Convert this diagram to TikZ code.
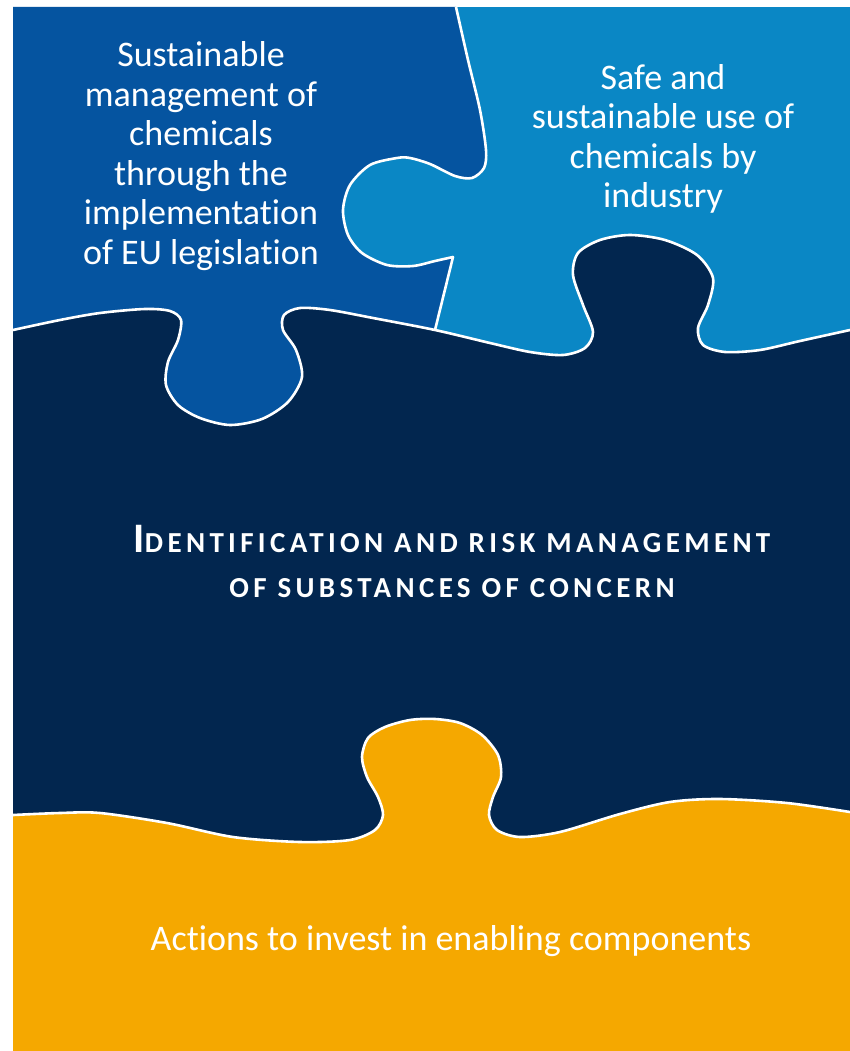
\documentclass[tikz,border=0pt]{standalone}
\usepackage{fontspec}
\setmainfont[Ligatures=NoCommon]{Carlito}
\newfontfamily\capsfont[LetterSpace=15,Ligatures=NoCommon]{Carlito}
\definecolor{dblue}{HTML}{0554A0}
\definecolor{lblue}{HTML}{0A87C5}
\definecolor{navy}{HTML}{02264F}
\definecolor{gold}{HTML}{F5A800}
\begin{document}
\begin{tikzpicture}[x=1pt,y=-1pt,
  edge/.style={draw=white,line width=2.6pt,line join=round},
  lbl/.style={text=white,align=center,inner sep=0pt,font=\fontsize{36}{39.5}\selectfont}]
\useasboundingbox (0,0) rectangle (850,1051);
\fill[white] (0,0) rectangle (850,1051);
% light blue base
\fill[lblue] (13,7) rectangle (850,1051);
% dark blue piece
\fill[dblue] (13,7) -- (456,7) -- plot[smooth] coordinates {(456,7) (468,60) (480,110) (486,150) (484,168) (472,178) (455,176) (430,164) (410,158) (397,158) (370,165) (350,185) (343,210) (348,235) (362,253) (387,265) (413,266) (435,261) (453,257)} -- (435,330) -- (430,460) -- (13,460) -- cycle;
% navy piece
\fill[navy] plot[smooth] coordinates {(13,330) (60,320) (100,313) (145,309) (170,311) (181,320) (178,340) (168,362) (166,385) (178,405) (200,418) (230,425) (262,419) (288,402) (302,377) (296,350) (283,330) (284,315) (300,308) (330,310) (373,318) (435,330) (490,343) (530,352) (563,355) (585,348) (593,332) (583,305) (573,275) (578,253) (600,240) (630,235) (665,240) (697,255) (713,278) (708,305) (698,328) (703,345) (725,352) (760,350) (800,341) (850,330)} -- (850,1051) -- (13,1051) -- cycle;
% gold piece
\fill[gold] plot[smooth] coordinates {(13,815) (60,813) (100,813) (167,823) (233,837) (300,842) (350,840) (375,830) (383,815) (378,797) (367,777) (362,757) (368,738) (385,727) (410,720) (435,719) (460,723) (482,735) (498,755) (501,777) (493,797) (489,815) (497,830) (520,837) (560,832) (620,814) (670,802) (720,799) (787,803) (850,812)} -- (850,1051) -- (13,1051) -- cycle;
% white seams
\draw[edge] plot[smooth] coordinates {(456,7) (468,60) (480,110) (486,150) (484,168) (472,178) (455,176) (430,164) (410,158) (397,158) (370,165) (350,185) (343,210) (348,235) (362,253) (387,265) (413,266) (435,261) (453,257)} -- (435,330);
\draw[edge] plot[smooth] coordinates {(13,330) (60,320) (100,313) (145,309) (170,311) (181,320) (178,340) (168,362) (166,385) (178,405) (200,418) (230,425) (262,419) (288,402) (302,377) (296,350) (283,330) (284,315) (300,308) (330,310) (373,318) (435,330) (490,343) (530,352) (563,355) (585,348) (593,332) (583,305) (573,275) (578,253) (600,240) (630,235) (665,240) (697,255) (713,278) (708,305) (698,328) (703,345) (725,352) (760,350) (800,341) (850,330)};
\draw[edge] plot[smooth] coordinates {(13,815) (60,813) (100,813) (167,823) (233,837) (300,842) (350,840) (375,830) (383,815) (378,797) (367,777) (362,757) (368,738) (385,727) (410,720) (435,719) (460,723) (482,735) (498,755) (501,777) (493,797) (489,815) (497,830) (520,837) (560,832) (620,814) (670,802) (720,799) (787,803) (850,812)};
% texts
\node[lbl] (legis) at (201,156) {Sustainable\\management of\\chemicals\\through the\\implementation\\of EU legislation};
\node[lbl] (industry) at (663,139) {Safe and\\sustainable use of\\chemicals by\\industry};
\node[text=white,align=center,inner sep=0pt,font=\capsfont\bfseries\fontsize{29}{45}\selectfont] (risk) at (452,561) {{\fontsize{42}{45}\selectfont I}DENTIFICATION AND RISK MANAGEMENT\\OF SUBSTANCES OF CONCERN};
\node[lbl,font=\fontsize{36}{40}\selectfont] (actions) at (451,941) {Actions to invest in enabling components};
\end{tikzpicture}
\end{document}
